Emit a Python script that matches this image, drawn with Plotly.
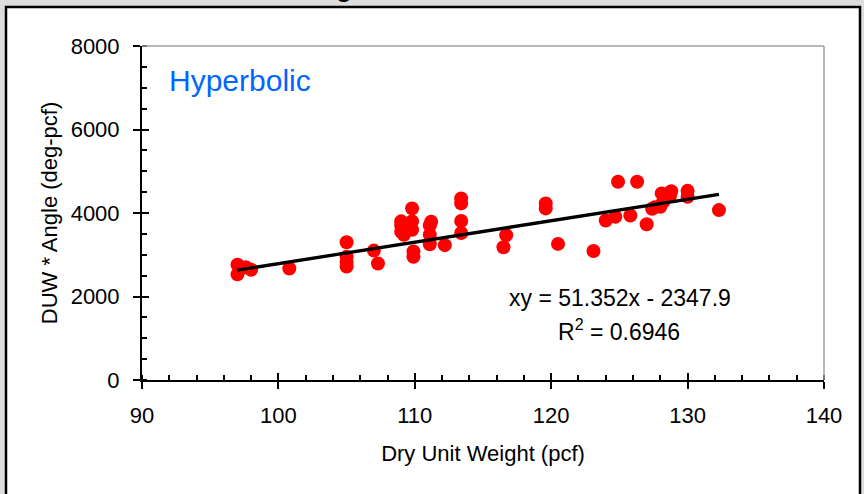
import plotly.graph_objects as go

# data
dry_unit_weight = [97.0, 97.0, 97.6, 98.0, 100.8, 105.0, 105.0, 105.0, 105.0, 107.0,
                   107.3, 109.0, 109.0, 109.0, 109.2, 109.8, 109.8, 109.8, 109.9, 109.9,
                   111.2, 111.1, 111.1, 111.1, 112.2, 113.4, 113.4, 113.4, 113.4, 116.5,
                   116.7, 119.6, 119.6, 120.5, 123.1, 124.0, 124.7, 124.9, 125.8, 126.3,
                   127.0, 127.4, 127.6, 128.0, 128.1, 128.2, 128.8, 128.7, 130.0, 130.0,
                   132.3]
duw_angle = [2760, 2530, 2700, 2640, 2670, 3300, 2950, 2830, 2720, 3100,
             2790, 3800, 3700, 3550, 3480, 4110, 3800, 3600, 3080, 2950,
             3790, 3700, 3480, 3250, 3230, 4350, 4230, 3810, 3520, 3180,
             3470, 4230, 4110, 3260, 3090, 3820, 3910, 4750, 3940, 4750,
             3730, 4100, 4140, 4150, 4470, 4260, 4520, 4400, 4530, 4390,
             4070]

# trendline shown on the chart
slope = 51.352
intercept = -2347.9
fit_x = [97.0, 132.3]
fit_y = [slope * v + intercept for v in fit_x]

FONT = "Arial, 'Liberation Sans', sans-serif"
L, R, T, B = 142, 40, 46, 114
W, H = 864, 494
pw, ph = W - L - R, H - T - B


def px_x(p):
    return (p - L) / pw


def px_y(p):
    return (H - B - p) / ph


fig = go.Figure()
fig.add_trace(go.Scatter(x=dry_unit_weight, y=duw_angle, mode="markers",
                         marker=dict(color="#ff0000", size=14, line=dict(width=0)),
                         showlegend=False))
fig.add_trace(go.Scatter(x=fit_x, y=fit_y, mode="lines", xaxis="x2", yaxis="y2",
                         line=dict(color="black", width=3.3), showlegend=False))

axis_common = dict(showgrid=False, zeroline=False, tickcolor="black", tickwidth=1.5,
                   automargin=False)
fig.update_layout(
    width=W, height=H,
    margin=dict(l=L, r=R, t=T, b=B),
    paper_bgcolor="#dddddd", plot_bgcolor="white",
    font=dict(family=FONT, size=22, color="black"),
    xaxis=dict(range=[90, 140], dtick=10, ticks="outside", ticklen=7,
               showline=True, linecolor="black", linewidth=2,
               ticklabelstandoff=8,
               minor=dict(dtick=2, ticks="inside", ticklen=5, tickcolor="black", tickwidth=1.5),
               title=dict(text="Dry Unit Weight (pcf)", font=dict(size=22), standoff=18),
               **axis_common),
    yaxis=dict(range=[0, 8000], dtick=2000, ticks="outside", ticklen=7,
               showline=True, linecolor="black", linewidth=2,
               ticklabelstandoff=9,
               minor=dict(dtick=500, ticks="inside", ticklen=5, tickcolor="black", tickwidth=1.5),
               title=dict(text="DUW * Angle (deg-pcf)", font=dict(size=22), standoff=7),
               **axis_common),
    xaxis2=dict(range=[90, 140], dtick=10, ticks="inside", ticklen=7, overlaying="x",
                showticklabels=False, showline=False, **axis_common),
    yaxis2=dict(range=[0, 8000], dtick=2000, ticks="inside", ticklen=7, overlaying="y",
                showticklabels=False, showline=False, **axis_common),
)

# white chart area with black frame, grey plot border on top and right
fig.add_shape(type="rect", xref="paper", yref="paper", layer="below",
              x0=px_x(6), x1=px_x(860), y0=px_y(510), y1=px_y(7),
              fillcolor="white", line=dict(color="black", width=2.5))
fig.add_shape(type="line", xref="paper", yref="paper", x0=0, x1=1, y0=1, y1=1,
              line=dict(color="#a0a0a0", width=1.5))
fig.add_shape(type="line", xref="paper", yref="paper", x0=1, x1=1, y0=0, y1=1,
              line=dict(color="#a0a0a0", width=1.5))

fig.add_annotation(text="Hyperbolic", xref="paper", yref="paper", x=px_x(167), y=px_y(80),
                   xanchor="left", yanchor="middle", showarrow=False,
                   font=dict(size=30, color="#0066ff"))
fig.add_annotation(text="xy = 51.352x - 2347.9", xref="paper", yref="paper",
                   x=px_x(620), y=px_y(298), xanchor="center", yanchor="middle",
                   showarrow=False, font=dict(size=23))
fig.add_annotation(text="R<sup>2</sup> = 0.6946", xref="paper", yref="paper",
                   x=px_x(619), y=px_y(330), xanchor="center", yanchor="middle",
                   showarrow=False, font=dict(size=23))
# bottom of the chart title, cut off by the top edge
fig.add_annotation(text="<b>g</b>", xref="paper", yref="paper", x=px_x(344), y=px_y(5),
                   xanchor="center", yanchor="bottom", showarrow=False,
                   font=dict(size=26, color="black"))

fig.write_html("out.html", config={"displayModeBar": False},
               post_script="document.body.style.margin='0';")
